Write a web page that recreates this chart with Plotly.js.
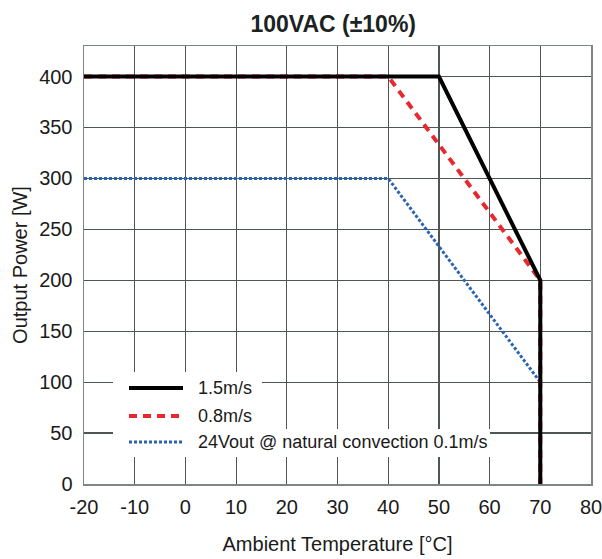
<!DOCTYPE html>
<html>
<head>
<meta charset="utf-8">
<script src="https://cdn.plot.ly/plotly-3.0.1.min.js"></script>
<style>
  html, body { margin: 0; padding: 0; background: #fff; }
  #chart { width: 602px; height: 559px; }
</style>
</head>
<body>
<div id="chart"></div>
<script>
// Derating curves: output power vs. ambient temperature
const seriesNames = ['1.5m/s', '0.8m/s', '24Vout @ natural convection 0.1m/s'];
const tempFast = [-20, 50, 70, 70];
const powerFast = [400, 400, 200, 0];
const tempMid = [-20, 40, 70, 70];
const powerMid = [400, 400, 200, 0];
const tempNatural = [-20, 40, 70, 70];
const powerNatural = [300, 300, 100, 0];
const xTicks = [-20, -10, 0, 10, 20, 30, 40, 50, 60, 70, 80];
const xTickText = ['-20', '-10', '0', '10', '20', '30', '40', '50', '60', '70', '80'];
const yTicks = [0, 50, 100, 150, 200, 250, 300, 350, 400];

const W = 602, H = 559;
const M = { l: 84, r: 11, t: 46, b: 75 };
const X_RANGE = [-20, 80], Y_RANGE = [0, 430];
const FONT = '"Liberation Sans", Arial, sans-serif';
const GRID = '#4d5555';

// pixel -> data helpers for the hand-placed key
const dx = x => X_RANGE[0] + (x - M.l) / (W - M.l - M.r) * (X_RANGE[1] - X_RANGE[0]);
const dy = y => Y_RANGE[0] + (H - M.b - y) / (H - M.t - M.b) * (Y_RANGE[1] - Y_RANGE[0]);

const styles = [
  { color: '#000000', width: 4, dash: 'solid' },
  { color: '#e8282e', width: 4, dash: '8px,6px' },
  { color: '#2b63b3', width: 3, dash: '3px,2px' }
];

const traces = [
  { x: tempNatural, y: powerNatural, name: seriesNames[2], line: styles[2] },
  { x: tempMid, y: powerMid, name: seriesNames[1], line: styles[1] },
  { x: tempFast, y: powerFast, name: seriesNames[0], line: styles[0] }
].map(t => Object.assign({ type: 'scatter', mode: 'lines', hoverinfo: 'skip', showlegend: false }, t));

// key: white patches over the grid, sample strokes and labels
const keyRows = [388, 416, 442];
const keyBoxes = [[113, 262, 372, 401], [113, 262, 401, 429], [113, 490, 429, 457]];
const shapes = [];
keyBoxes.forEach(b => shapes.push({
  type: 'rect', xref: 'x', yref: 'y', layer: 'above',
  x0: dx(b[0]), x1: dx(b[1]), y0: dy(b[3]), y1: dy(b[2]),
  fillcolor: '#ffffff', opacity: 1,
  line: { color: 'rgba(255,255,255,0)', width: 0 }
}));
const annotations = [];
seriesNames.forEach((name, i) => {
  shapes.push({
    type: 'line', xref: 'x', yref: 'y', layer: 'above',
    x0: dx(129), x1: dx(183), y0: dy(keyRows[i]), y1: dy(keyRows[i]),
    line: { color: styles[i].color, width: styles[i].width, dash: styles[i].dash }
  });
  annotations.push({
    xref: 'x', yref: 'y', x: dx(196), y: dy(keyRows[i]),
    xanchor: 'left', yanchor: 'middle', showarrow: false,
    text: name, font: { family: FONT, size: 18, color: '#1a1a1a' }
  });
});

const axisBase = {
  showgrid: true, gridcolor: GRID, gridwidth: 1.2,
  zeroline: false, showline: true, linecolor: '#7d8585', linewidth: 1.5, mirror: true,
  ticks: '', tickfont: { family: FONT, size: 20, color: '#1a1a1a' },
  ticklabeloverflow: 'allow',
  fixedrange: true
};

const layout = {
  width: W, height: H,
  margin: M,
  paper_bgcolor: '#ffffff', plot_bgcolor: '#ffffff',
  showlegend: false,
  title: {
    text: '<b>100VAC (±10%)</b>',
    font: { family: FONT, size: 23, color: '#1a2222' },
    x: 0.5535, xanchor: 'center', y: 0.958, yanchor: 'middle'
  },
  xaxis: Object.assign({}, axisBase, {
    range: X_RANGE, tickmode: 'array', tickvals: xTicks, ticktext: xTickText,
    ticklabelstandoff: 4,
    title: { text: 'Ambient Temperature [°C]', font: { family: FONT, size: 20, color: '#1a1a1a' }, standoff: 20 }
  }),
  yaxis: Object.assign({}, axisBase, {
    range: Y_RANGE, tickmode: 'array', tickvals: yTicks,
    ticklabelstandoff: 6,
    title: { text: 'Output Power [W]', font: { family: FONT, size: 20, color: '#1a1a1a' }, standoff: 6 }
  }),
  shapes: shapes,
  annotations: annotations
};

Plotly.newPlot('chart', traces, layout, { displayModeBar: false, staticPlot: true });
</script>
</body>
</html>
